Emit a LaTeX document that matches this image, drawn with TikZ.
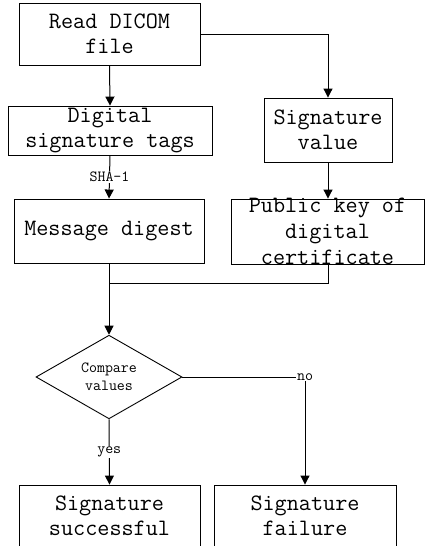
\documentclass[tikz,border=0pt]{standalone}
\usepackage{tikz}
\usetikzlibrary{shapes.geometric, arrows.meta, positioning, calc}

\begin{document}
\begin{tikzpicture}[x=1pt, y=-1pt,
  box/.style={draw, line width=0.9pt, inner sep=0pt, align=center,
    font=\ttfamily\fontsize{23.5}{25}\selectfont},
  decision/.style={draw, diamond, line width=0.9pt, inner sep=0pt, align=center,
    minimum width=146pt, minimum height=76pt, font=\ttfamily\fontsize{15.5}{18}\selectfont},
  flow/.style={line width=1pt, -{Triangle[length=9pt, width=9pt]}},
  link/.style={line width=1pt},
  tag/.style={fill=white, inner sep=1pt, font=\ttfamily\fontsize{15.5}{18}\selectfont}]
  \useasboundingbox (0,0) rectangle (424,546);

  % Reading and splitting the file
  \node[box, minimum width=181pt, minimum height=62pt] (read) at (109.5, 34) {Read DICOM\\file};
  \node[box, minimum width=204pt, minimum height=49pt] (tags) at (110, 130.5) {Digital\\signature tags};
  \node[box, minimum width=128pt, minimum height=64pt] (sigval) at (328, 130) {Signature\\value};

  % Digest and key
  \node[box, minimum width=190pt, minimum height=64pt] (digest) at (109, 231) {Message digest};
  \node[box, minimum width=193pt, minimum height=65pt] (pubkey) at (327.5, 231.5) {};
  \node[box, draw=none, font=\ttfamily\fontsize{23.5}{26}\selectfont] (pubkeytext) at (327.5, 231) {Public key of\\digital\\certificate};

  % Comparison
  \node[decision] (compare) at (109, 377) {Compare\\values};
  \coordinate (merge) at (109, 283);

  % Results
  \node[box, minimum width=181pt, minimum height=62pt] (success) at (109.5, 516) {Signature\\successful};
  \node[box, minimum width=182pt, minimum height=62pt] (fail) at (305, 516) {Signature\\failure};

  % Connectors
  \draw[flow] (read.south) -- (tags.north);
  \draw[flow] (read.east) -| (sigval.north);
  \draw[flow] (tags.south) -- node[tag] {SHA-1} (digest.north);
  \draw[flow] (sigval.south) -- (sigval.south |- pubkey.north);
  \draw[link] (sigval.south |- pubkey.south) |- (merge);
  \draw[flow] (digest.south) -- (compare.north);
  \draw[flow] (compare.east) -| node[tag, pos=0.5] {no} (fail.north);
  \draw[flow] (compare.south) -- node[tag] {yes} (success.north);
\end{tikzpicture}
\end{document}
